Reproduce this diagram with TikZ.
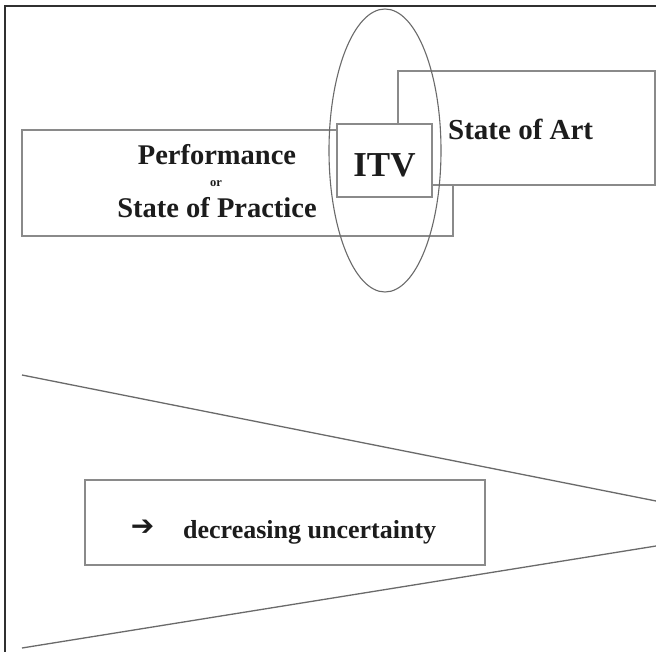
\documentclass[tikz,border=0pt]{standalone}
\usepackage{fontspec}
\setmainfont{Liberation Serif}
\newfontfamily\arrowfont{DejaVu Sans}
\usetikzlibrary{shapes.geometric}
\definecolor{boxgray}{HTML}{8A8A8A}
\definecolor{linegray}{HTML}{6A6A6A}
\definecolor{framegray}{HTML}{303030}
\definecolor{textblack}{HTML}{1C1C1C}
\begin{document}
\begin{tikzpicture}[x=1pt,y=-1pt,
  box/.style={draw=boxgray,line width=1.1pt,fill=white,inner sep=0pt,outer sep=0pt,anchor=north west},
  lbl/.style={inner sep=0pt,anchor=base,text=textblack},
  thinline/.style={draw=linegray,line width=1.3pt},
  framestyle/.style={draw=framegray,line width=1.6pt}]
\useasboundingbox (0,0) rectangle (656,652);
\fill[white] (0,0) rectangle (656,652);
% outer frame
\coordinate (f1) at (5,653);
\coordinate (f2) at (5,6);
\coordinate (f3) at (657,6);
\draw[framestyle] (f1) -- (f2) -- (f3);
% boxes
\node[box, minimum width=431pt, minimum height=106pt] (perf) at (22,130) {};
\node[box, minimum width=257pt, minimum height=114pt] (art) at (398,71) {};
\node[box, minimum width=95pt, minimum height=73pt] (itv) at (337,124) {};
\node[draw=linegray, line width=1.1pt, ellipse, minimum width=112pt, minimum height=283pt, inner sep=0pt] (ell) at (385,150.5) {};
% texts
\node[lbl, font=\bfseries\fontsize{28.5}{30}\selectfont] (perfT) at (217,165) {Performance};
\node[lbl, font=\bfseries\fontsize{12.5}{13}\selectfont] (orT) at (216,187) {or};
\node[lbl, font=\bfseries\fontsize{28.5}{30}\selectfont] (pracT) at (217,218) {State of Practice};
\node[lbl, anchor=base west, font=\bfseries\fontsize{29}{30}\selectfont] (artT) at (448,140) {State of Art};
\node[lbl, font=\bfseries\fontsize{35}{36}\selectfont] (itvT) at (384.5,177) {ITV};
% funnel
\coordinate (t1) at (22,375);
\coordinate (tip1) at (656,501);
\coordinate (t2) at (22,648);
\coordinate (tip2) at (656,546);
\draw[thinline] (t1) -- (tip1);
\draw[thinline] (t2) -- (tip2);
% uncertainty box
\node[box, minimum width=400pt, minimum height=85pt] (unc) at (85,480) {};
\node[inner sep=0pt, text=textblack, font=\arrowfont\bfseries\fontsize{28}{28}\selectfont] (arr) at (142.5,527.5) {➔};
\node[lbl, anchor=base west, font=\bfseries\fontsize{26}{28}\selectfont] (uncT) at (183,538) {decreasing uncertainty};
\end{tikzpicture}
\end{document}
